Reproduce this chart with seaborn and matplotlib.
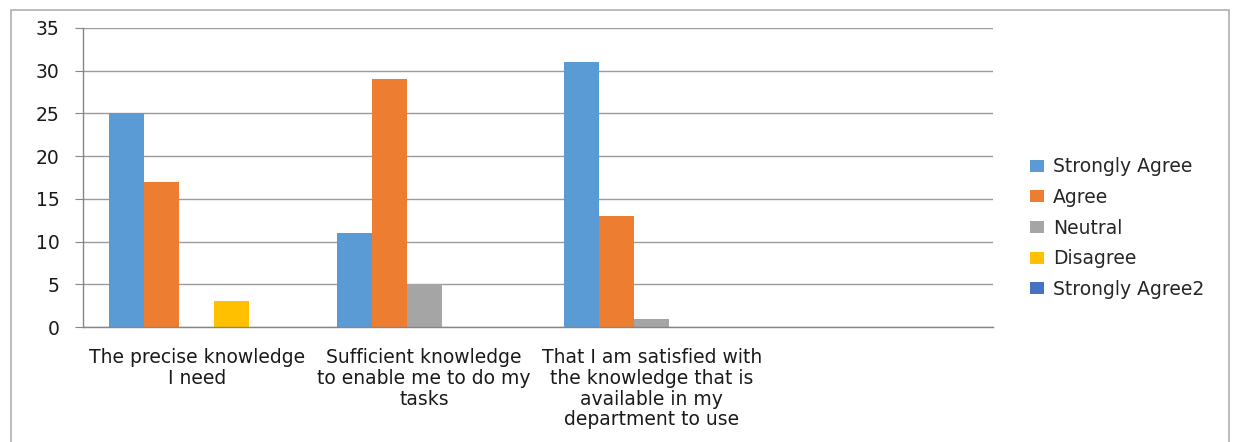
import matplotlib
matplotlib.use("Agg")
import matplotlib.pyplot as plt
import seaborn as sns
import pandas as pd
from matplotlib.patches import Rectangle

# Survey responses per statement
categories = [
    "The precise knowledge\nI need",
    "Sufficient knowledge\nto enable me to do my\ntasks",
    "That I am satisfied with\nthe knowledge that is\navailable in my\ndepartment to use",
    "",
]
series_names = ["Strongly Agree", "Agree", "Neutral", "Disagree", "Strongly Agree2"]
strongly_agree = [25, 11, 31, 0]
agree = [17, 29, 13, 0]
neutral = [0, 5, 1, 0]
disagree = [3, 0, 0, 0]
strongly_agree2 = [0, 0, 0, 0]
colors = ["#5B9BD5", "#ED7D31", "#A5A5A5", "#FFC000", "#4472C4"]

sns.set_style("white")
plt.rcParams["font.family"] = ["DejaVu Sans"]
FS = 13.5

rows = []
for name, vals in zip(series_names, [strongly_agree, agree, neutral, disagree, strongly_agree2]):
    for cat, v in zip(categories, vals):
        rows.append({"category": cat, "series": name, "value": v})
df = pd.DataFrame(rows)

fig = plt.figure(figsize=(12.33, 4.42), dpi=100)
ax = fig.add_axes([0.0673, 0.260, 0.738, 0.6767])

sns.barplot(data=df, x="category", y="value", hue="series", order=categories,
            hue_order=series_names, palette=colors, width=0.77, linewidth=0,
            errorbar=None, ax=ax, saturation=1)

ax.set_ylim(0, 35)
ax.set_yticks(range(0, 36, 5))
ax.set_xlim(-0.5, 3.5)
ax.yaxis.grid(True, color="#9a9a9a", linewidth=1)
ax.set_axisbelow(True)
ax.set_xlabel("")
ax.set_ylabel("")
for s in ["top", "right"]:
    ax.spines[s].set_visible(False)
for s in ["left", "bottom"]:
    ax.spines[s].set_color("#868686")
    ax.spines[s].set_linewidth(1)

ax.set_xticks(range(len(categories)))
ax.set_xticklabels(categories, fontsize=FS, linespacing=1.12, color="#1a1a1a")
ax.set_xticks([-0.5, 0.5, 1.5, 2.5, 3.5], minor=True)
ax.tick_params(axis="x", which="major", length=0, pad=15)
ax.tick_params(axis="x", which="minor", length=6, color="#868686", direction="out")
ax.tick_params(axis="y", length=6, color="#868686", labelsize=FS, labelcolor="#1a1a1a", pad=11, left=True)

leg = ax.legend(loc="center left", bbox_to_anchor=(1.022, 0.331), frameon=False,
                fontsize=FS, handlelength=0.75, handleheight=0.6, handletextpad=0.5,
                labelspacing=0.62)

# outer chart border
fig.patches.append(Rectangle((11 / 1233, -0.05), 1218 / 1233, 1 - 10 / 442 + 0.05,
                             transform=fig.transFigure, fill=False,
                             edgecolor="#b0b0b0", linewidth=1.2))

fig.savefig("out.png", dpi=100)
